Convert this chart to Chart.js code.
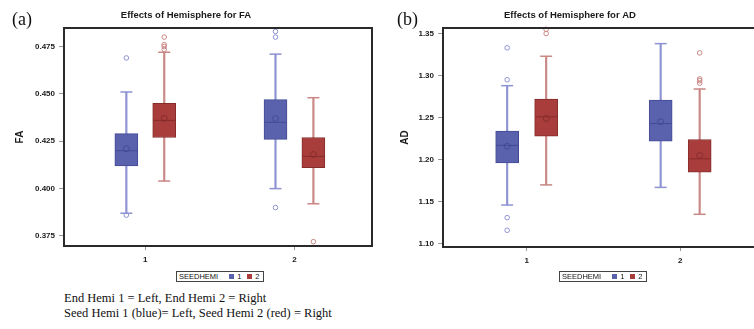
<!DOCTYPE html>
<html>
<head>
<meta charset="utf-8">
<script src="https://cdn.jsdelivr.net/npm/chart.js@4.4.1/dist/chart.umd.min.js"></script>
<style>
  body { margin: 0; background: #fff; }
  #wrap { position: relative; width: 754px; height: 329px; overflow: hidden; background: #fff; }
  canvas { position: absolute; top: 0; }
  .tag { position: absolute; font: 18px "Liberation Serif", serif; color: #111; line-height: 20px; }
  .legend { position: absolute; box-sizing: border-box; height: 11px; border: 1px solid #444;
            font: 7.5px "Liberation Sans", Arial, sans-serif; color: #111; display: flex;
            align-items: center; padding: 0 3px 0 2px; white-space: nowrap; }
  .sw { display: inline-block; width: 5px; height: 5px; margin: 0 3px 0 0; }
  .note { position: absolute; left: 64px; font: 12.5px "Liberation Serif", serif; line-height: 14px; color: #111; white-space: nowrap; }
</style>
</head>
<body>
<div id="wrap">
  <canvas id="chartA" width="436" height="270" style="left:0"></canvas>
  <canvas id="chartB" width="444" height="271" style="left:380px"></canvas>
  <div class="tag" style="left:12px;top:9px">(a)</div>
  <div class="tag" style="left:397px;top:9px">(b)</div>
  <div class="legend" id="legA" style="left:176px;top:271px"></div>
  <div class="legend" id="legB" style="left:559px;top:271px"></div>
  <div class="note" style="top:291px">End Hemi 1 = Left, End Hemi 2 = Right</div>
  <div class="note" style="top:306px">Seed Hemi 1 (blue)= Left, Seed Hemi 2 (red) = Right</div>
</div>
<script>
// END HEMI on the x axis, SEEDHEMI as the two box colours
const endHemi = [1, 2];
const seedHemi = ['1', '2'];

// FA, seed hemi 1 (blue)
const faBlueLow = [0.387, 0.400];
const faBlueQ1 = [0.412, 0.426];
const faBlueMedian = [0.420, 0.435];
const faBlueQ3 = [0.429, 0.447];
const faBlueHigh = [0.451, 0.471];
const faBlueMean = [0.421, 0.437];
const faBlueOutliers = [[0.469, 0.386], [0.483, 0.480, 0.390]];
// FA, seed hemi 2 (red)
const faRedLow = [0.404, 0.392];
const faRedQ1 = [0.427, 0.411];
const faRedMedian = [0.436, 0.417];
const faRedQ3 = [0.445, 0.427];
const faRedHigh = [0.472, 0.448];
const faRedMean = [0.437, 0.418];
const faRedOutliers = [[0.480, 0.476, 0.475, 0.4735], [0.372]];
const faTicks = [0.375, 0.400, 0.425, 0.450, 0.475];

// AD, seed hemi 1 (blue)
const adBlueLow = [1.146, 1.167];
const adBlueQ1 = [1.196, 1.222];
const adBlueMedian = [1.217, 1.243];
const adBlueQ3 = [1.234, 1.271];
const adBlueHigh = [1.288, 1.338];
const adBlueMean = [1.216, 1.245];
const adBlueOutliers = [[1.333, 1.295, 1.131, 1.116], []];
// AD, seed hemi 2 (red)
const adRedLow = [1.170, 1.135];
const adRedQ1 = [1.228, 1.185];
const adRedMedian = [1.251, 1.201];
const adRedQ3 = [1.272, 1.224];
const adRedHigh = [1.323, 1.284];
const adRedMean = [1.249, 1.205];
const adRedOutliers = [[1.355, 1.350], [1.327, 1.296, 1.294, 1.291]];
const adTicks = [1.10, 1.15, 1.20, 1.25, 1.30, 1.35];

const BLUE = { fill: '#5a62ad', edge: '#434b97', light: '#8d93d3' };
const RED = { fill: '#a83d3b', edge: '#862d2c', light: '#c98785' };
const SHIFT = 0.127; // half the gap between the two boxes, in x units
const FONT = '"Liberation Sans", Arial, sans-serif';

function boxSets(name, s, color, shift) {
    const xs = endHemi.map(c => c + shift);
    const pts = arr => arr.map((v, i) => ({ x: xs[i], y: v }));
    const outl = [];
    s.outliers.forEach((list, i) => list.forEach(v => outl.push({ x: xs[i], y: v })));
    return [
        { type: 'bar', label: name, data: xs.map((x, i) => ({ x: x, y: [s.q1[i], s.q3[i]] })),
          backgroundColor: color.fill, borderColor: color.edge, borderWidth: 1, borderSkipped: false,
          grouped: false, barThickness: 23, maxBarThickness: 23, order: 2 },
        { type: 'bar', data: xs.map((x, i) => ({ x: x, y: [s.low[i], s.high[i]] })),
          backgroundColor: color.light, borderWidth: 0,
          grouped: false, barThickness: 1.5, maxBarThickness: 1.5, order: 4 },
        { type: 'scatter', data: pts(s.low).concat(pts(s.high)), pointStyle: 'line',
          pointRadius: 6, pointBorderColor: color.light, pointBorderWidth: 1.5, clip: 6, order: 3 },
        { type: 'scatter', data: outl, pointStyle: 'circle', pointRadius: 2.3,
          pointBackgroundColor: 'rgba(0,0,0,0)', pointBorderColor: color.light, pointBorderWidth: 1, clip: 6, order: 3 },
        { type: 'scatter', data: pts(s.median), pointStyle: 'line', pointRadius: 11,
          pointBorderColor: color.edge, pointBorderWidth: 1, order: 1 },
        { type: 'scatter', data: pts(s.mean), pointStyle: 'circle', pointRadius: 3,
          pointBackgroundColor: 'rgba(0,0,0,0)', pointBorderColor: color.edge, pointBorderWidth: 1, order: 1 }
    ];
}

const frame = {
    id: 'frame',
    afterDatasetsDraw(chart) {
        const { ctx, chartArea: a } = chart;
        ctx.save();
        ctx.strokeStyle = '#2a2a2a';
        ctx.lineWidth = 2;
        ctx.strokeRect(a.left, a.top, a.right - a.left, a.bottom - a.top);
        ctx.restore();
    }
};

function makeChart(id, sets, cfg) {
    return new Chart(document.getElementById(id), {
        type: 'bar',
        data: { datasets: sets },
        options: {
            responsive: false,
            animation: false,
            events: [],
            layout: { padding: { left: 0, right: 64, top: 0, bottom: 0 } },
            plugins: {
                legend: { display: false },
                tooltip: { enabled: false },
                title: {
                    display: true, text: cfg.title, color: '#1a1a1a',
                    font: { family: FONT, size: 9.5, weight: 'bold' },
                    padding: { top: 9.2, bottom: 7.4 }
                }
            },
            scales: {
                x: {
                    type: 'linear', min: 0.455, max: 2.52, offset: false,
                    grid: { offset: false, drawOnChartArea: false, tickLength: 4, color: '#999' },
                    border: { display: false },
                    afterBuildTicks: s => { s.ticks = endHemi.map(v => ({ value: v })); },
                    afterFit: s => { s.height = 24; },
                    ticks: { color: '#1a1a1a', padding: 5, font: { family: FONT, size: 8, weight: 'bold' },
                             callback: v => String(v) }
                },
                y: {
                    type: 'linear', min: cfg.min, max: cfg.max, stacked: false,
                    grid: { drawOnChartArea: false, tickLength: 5, color: '#999' },
                    border: { display: false },
                    afterBuildTicks: s => { s.ticks = cfg.ticks.map(v => ({ value: v })); },
                    afterFit: s => { s.width = cfg.yWidth; },
                    ticks: { color: '#1a1a1a', padding: 4, font: { family: FONT, size: 8, weight: 'bold' },
                             callback: v => v.toFixed(cfg.digits) },
                    title: { display: true, text: cfg.yTitle, color: '#1a1a1a',
                             font: { family: FONT, size: 10, weight: 'bold' },
                             padding: { top: cfg.titlePad, bottom: 0 } }
                }
            }
        },
        plugins: [frame]
    });
}

const faSets = boxSets('1', { low: faBlueLow, q1: faBlueQ1, median: faBlueMedian, q3: faBlueQ3, high: faBlueHigh, mean: faBlueMean, outliers: faBlueOutliers }, BLUE, -SHIFT)
    .concat(boxSets('2', { low: faRedLow, q1: faRedQ1, median: faRedMedian, q3: faRedQ3, high: faRedHigh, mean: faRedMean, outliers: faRedOutliers }, RED, SHIFT));
const adSets = boxSets('1', { low: adBlueLow, q1: adBlueQ1, median: adBlueMedian, q3: adBlueQ3, high: adBlueHigh, mean: adBlueMean, outliers: adBlueOutliers }, BLUE, -SHIFT)
    .concat(boxSets('2', { low: adRedLow, q1: adRedQ1, median: adRedMedian, q3: adRedQ3, high: adRedHigh, mean: adRedMean, outliers: adRedOutliers }, RED, SHIFT));

makeChart('chartA', faSets, { title: 'Effects of Hemisphere for FA', yTitle: 'FA', min: 0.3697, max: 0.4848,
    ticks: faTicks, digits: 3, yWidth: 64, titlePad: 14.7 });
makeChart('chartB', adSets, { title: 'Effects of Hemisphere for AD', yTitle: 'AD', min: 1.0961, max: 1.3566,
    ticks: adTicks, digits: 2, yWidth: 63, titlePad: 19 });

// legend boxes: SEEDHEMI  ■1 ■2
['legA', 'legB'].forEach(id => {
    const el = document.getElementById(id);
    let html = '<span style="margin-right:8px">SEEDHEMI</span>';
    seedHemi.forEach((s, i) => {
        const c = i === 0 ? BLUE.fill : RED.fill;
        html += '<span class="sw" style="background:' + c + ';margin-left:' + (i === 0 ? 3 : 6) + 'px"></span>' + s;
    });
    el.innerHTML = html;
});
</script>
</body>
</html>
